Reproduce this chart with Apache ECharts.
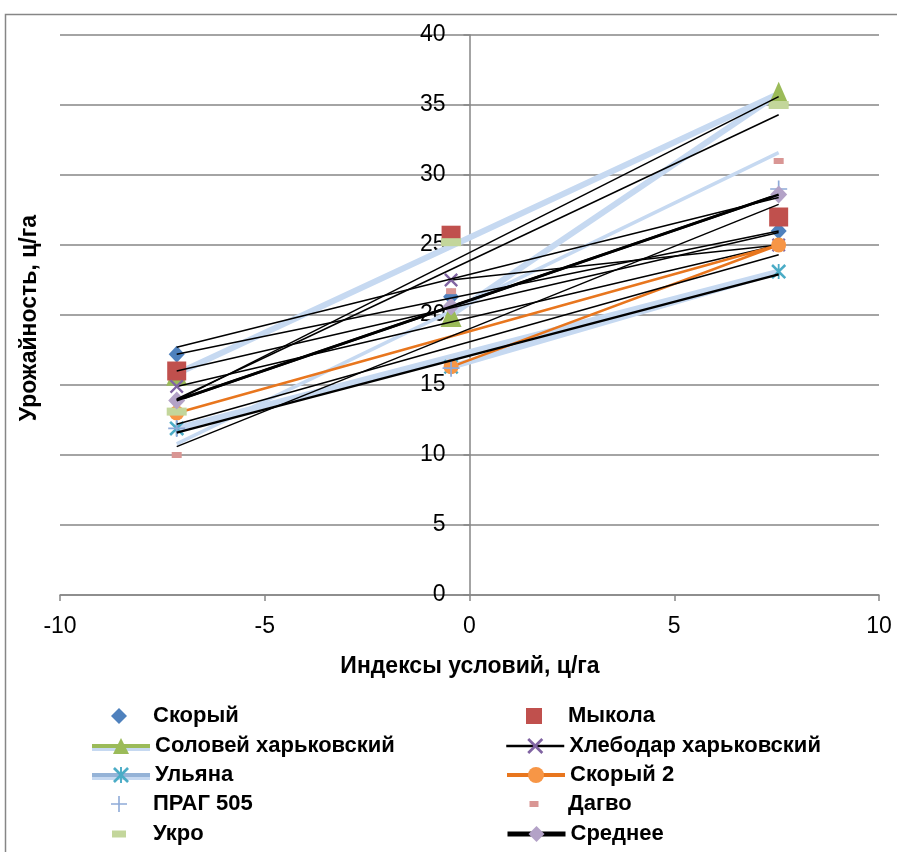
<!DOCTYPE html>
<html>
<head>
<meta charset="utf-8">
<script src="https://cdn.jsdelivr.net/npm/echarts@6/dist/echarts.min.js"></script>
<style>
html,body{margin:0;padding:0;background:#fff;}
#chart{width:897px;height:852px;}
</style>
</head>
<body>
<div id="chart"></div>
<script>
// Environment indices (x), in source order: middle, right, left
const envIndex = [-0.45, 7.55, -7.15];
// Trendline x-range (min and max index)
const trendX = [-7.15, 7.55];

// Yields per variety, same order as envIndex
const vSkoryi    = [21.3, 26.0, 17.2];
const vMykola    = [25.7, 27.0, 16.0];
const vSolovei   = [20.0, 35.8, 15.8];
const vKhlebodar = [22.5, 25.0, 14.9];
const vUlyana    = [16.3, 23.1, 11.9];
const vSkoryi2   = [16.3, 25.0, 13.0];
const vPrag      = [16.2, 29.0, 11.9];
const vDagvo     = [21.7, 31.0, 10.0];
const vUkro      = [25.2, 35.0, 13.1];
const vMean      = [20.6, 28.6, 13.9];

// Linear trendline end values [at min x, at max x]
const tSkoryi    = [17.2, 26.0];
const tMykola    = [17.7, 28.4];
const tSolovei   = [14.0, 34.3];
const tKhlebodar = [16.0, 25.9];
const tUlyana    = [11.6, 22.9];
const tSkoryi2   = [12.2, 24.3];
const tPrag      = [10.6, 27.9];
const tDagvo     = [10.8, 31.6];
const tUkro      = [13.9, 35.6];
const tMean      = [13.9, 28.6];

const names = ['Скорый','Мыкола','Соловей харьковский','Хлебодар харьковский','Ульяна','Скорый 2','ПРАГ 505','Дагво','Укро','Среднее'];
const xTicks = [-10, -5, 0, 5, 10];
const yTicks = [0, 5, 10, 15, 20, 25, 30, 35, 40];

const FONT = "'Liberation Sans', Arial, sans-serif";
const pts = v => envIndex.map((x, i) => [x, v[i]]);
const tpts = t => trendX.map((x, i) => [x, t[i]]);

const crossPath = 'path://M0,1.2L1.2,0L5,3.8L8.8,0L10,1.2L6.2,5L10,8.8L8.8,10L5,6.2L1.2,10L0,8.8L3.8,5Z';
const starPath = 'path://M0,1.2L1.2,0L5,3.8L8.8,0L10,1.2L6.2,5L10,8.8L8.8,10L5,6.2L1.2,10L0,8.8L3.8,5Z M4.4,0L5.6,0L5.6,10L4.4,10Z';
const plusPath = 'path://M4.5,0L5.5,0L5.5,4.5L10,4.5L10,5.5L5.5,5.5L5.5,10L4.5,10L4.5,5.5L0,5.5L0,4.5L4.5,4.5Z';

const noLine = {width: 0, opacity: 0};
function mk(name, data, symbol, size, color, lineStyle, z) {
  return {
    name: name, type: 'line', data: pts(data), symbol: symbol, symbolSize: size,
    itemStyle: {color: color, opacity: 1}, lineStyle: lineStyle || noLine,
    showSymbol: true, z: z || 3, animation: false, silent: true
  };
}
function trend(t, color, width, z) {
  return {type: 'line', data: tpts(t), symbol: 'none', lineStyle: {color: color, width: width},
    z: z || 4, animation: false, silent: true};
}

const series = [
  mk(names[0], vSkoryi, 'diamond', [16, 17], '#4f81bd'),
  mk(names[1], vMykola, 'rect', [19, 19], '#c0504d', null, 3),
  mk(names[2], vSolovei, 'triangle', [21, 24], '#9bbb59', {color: '#c6d9f1', width: 6}, 2),
  mk(names[3], vKhlebodar, crossPath, [14, 14], '#8064a2', {color: '#000', width: 1.5}),
  mk(names[4], vUlyana, starPath, [15, 15], '#4bacc6', {color: '#c6d9f1', width: 6}),
  mk(names[5], vSkoryi2, 'circle', [15, 15], '#f79646', {color: '#e8761e', width: 2.5}),
  mk(names[6], vPrag, plusPath, [17, 17], '#8eaad8'),
  mk(names[7], vDagvo, 'rect', [10, 6], '#d99694'),
  mk(names[8], vUkro, 'rect', [20, 8], '#c3d69b'),
  mk(names[9], vMean, 'diamond', [17, 18], '#b3a2c7', {color: '#000', width: 3}),
  trend(tSkoryi, '#000', 1.5),
  trend(tMykola, '#000', 1.5),
  trend(tSolovei, '#000', 1.5),
  trend(tKhlebodar, '#000', 1.5),
  trend(tUlyana, '#000', 2.5),
  trend(tSkoryi2, '#000', 1.5),
  trend(tPrag, '#000', 1.5),
  trend(tDagvo, '#c6d9f1', 3.5, 2),
  trend(tUkro, '#000', 1.5),
  trend(tMean, '#000', 2.5)
];

const gridLeft = 60, gridRight = 18, chartW = 897;
const plotW = chartW - gridLeft - gridRight;
// place the y axis (line + labels) at x = 0
const yOffset = -plotW * (0 - xTicks[0]) / (xTicks[xTicks.length - 1] - xTicks[0]);

// Legend: two columns of five rows (one legend component per entry)
const legendCols = [90, 505];
const legendRows = [716, 746, 775, 804, 834];
const legendText = {fontFamily: FONT, fontWeight: 'bold', fontSize: 22, color: '#000'};
const legendLine = {
  'Соловей харьковский': {color: '#9bbb59', width: 4, shadowColor: '#c6d9f1', shadowBlur: 0, shadowOffsetY: 3},
  'Хлебодар харьковский': {color: '#000', width: 2.5},
  'Ульяна': {color: '#95b3d7', width: 4, shadowColor: '#c6d9f1', shadowBlur: 0, shadowOffsetY: 3},
  'Скорый 2': {color: '#e8761e', width: 4},
  'Среднее': {color: '#000', width: 5}
};
// small dash icons (no line) for these entries
const smallIcon = {'Дагво': [9, 6], 'Укро': [14, 7]};
const legends = names.map((n, i) => {
  const col = legendCols[i % 2], row = legendRows[Math.floor(i / 2)];
  const o = {orient: 'horizontal', padding: 0, selectedMode: false, data: [n],
    textStyle: Object.assign({}, legendText)};
  if (smallIcon[n]) {
    const [w, h] = smallIcon[n];
    o.icon = 'rect';
    o.itemWidth = w; o.itemHeight = h;
    o.left = col + 29 - w / 2;
    o.top = row - 11;
    o.textStyle.padding = [0, 0, 0, 29 - w / 2];
    o.textStyle.lineHeight = 22;
    o.textStyle.verticalAlign = 'middle';
  } else {
    o.itemWidth = 58; o.itemHeight = 20;
    o.left = col; o.top = row - 11;
  }
  if (legendLine[n]) o.lineStyle = legendLine[n];
  return o;
});

const chart = echarts.init(document.getElementById('chart'), null, {renderer: 'canvas'});
chart.setOption({
  backgroundColor: '#fff',
  animation: false,
  grid: {left: gridLeft, right: gridRight, top: 35, bottom: 257, containLabel: false},
  xAxis: {
    type: 'value', min: xTicks[0], max: xTicks[xTicks.length - 1], interval: 5,
    axisLine: {onZero: false, lineStyle: {color: '#868686', width: 1.5}},
    axisTick: {show: true, length: 6, lineStyle: {color: '#868686', width: 1.5}},
    axisLabel: {fontFamily: FONT, fontSize: 23, color: '#000', margin: 20},
    splitLine: {show: false}
  },
  yAxis: {
    type: 'value', min: yTicks[0], max: yTicks[yTicks.length - 1], interval: 5,
    offset: yOffset,
    axisLine: {show: true, onZero: false, lineStyle: {color: '#868686', width: 1.5}},
    axisTick: {show: true, length: 6, lineStyle: {color: '#868686', width: 1.5}},
    axisLabel: {fontFamily: FONT, fontSize: 23, color: '#000', margin: 24},
    splitLine: {show: true, lineStyle: {color: '#868686', width: 1.5}}
  },
  legend: legends,
  graphic: [
    {type: 'rect', shape: {x: 5.5, y: 14.5, width: 1000, height: 1000}, style: {fill: 'none', stroke: '#868686', lineWidth: 1.5}, z: -10, silent: true},
    {type: 'text', x: 470, y: 667, style: {text: 'Индексы условий, ц/га', font: "bold 23px 'Liberation Sans', Arial, sans-serif", fill: '#000', textAlign: 'center', textVerticalAlign: 'middle'}},
    {type: 'text', x: 30, y: 318, rotation: Math.PI / 2, style: {text: 'Урожайность, ц/га', font: "bold 23px 'Liberation Sans', Arial, sans-serif", fill: '#000', textAlign: 'center', textVerticalAlign: 'middle'}}
  ],
  series: series
});
</script>
</body>
</html>
